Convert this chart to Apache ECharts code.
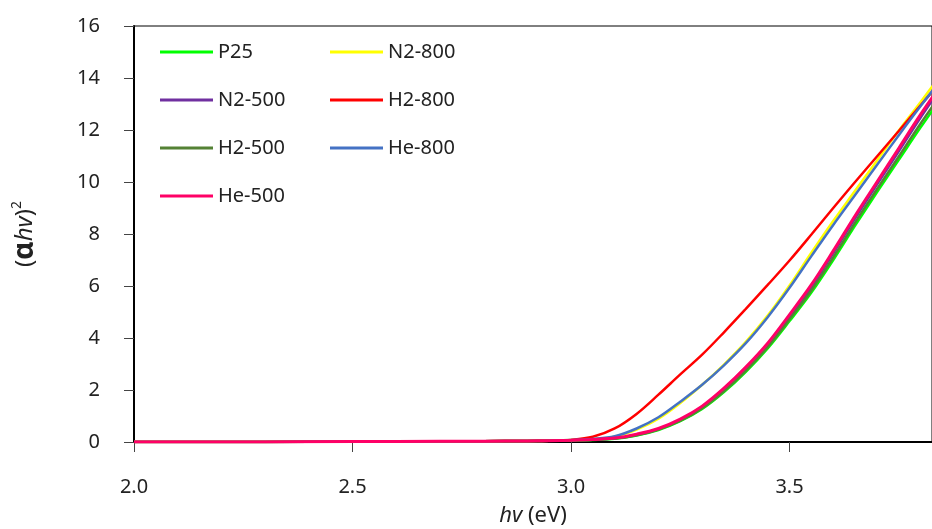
<!DOCTYPE html>
<html>
<head>
<meta charset="utf-8">
<script src="https://cdn.jsdelivr.net/npm/echarts@6/dist/echarts.min.js"></script>
<style>html,body{margin:0;padding:0;background:#fff;}#c{width:932px;height:529px;}</style>
</head>
<body>
<div id="c"></div>
<script>
var energy = [2.0, 2.2, 2.4, 2.6, 2.8, 2.9, 2.95, 3.0, 3.05, 3.1, 3.15, 3.2, 3.25, 3.3, 3.35, 3.4, 3.45, 3.5, 3.55, 3.6, 3.65, 3.7, 3.75, 3.8, 3.85];
var seriesNames = ['P25', 'N2-500', 'H2-500', 'N2-800', 'H2-800', 'He-800', 'He-500'];
var P25    = [0, 0, 0.01, 0.02, 0.03, 0.04, 0.05, 0.06, 0.08, 0.12, 0.25, 0.46, 0.8, 1.27, 1.92, 2.7, 3.6, 4.65, 5.75, 7.0, 8.32, 9.6, 10.85, 12.1, 13.3];
var N2_500 = [0, 0, 0.01, 0.02, 0.03, 0.04, 0.05, 0.07, 0.09, 0.14, 0.28, 0.5, 0.85, 1.34, 2.02, 2.82, 3.74, 4.82, 5.96, 7.26, 8.6, 9.9, 11.18, 12.48, 13.7];
var H2_500 = [0, 0, 0.01, 0.02, 0.03, 0.04, 0.05, 0.06, 0.09, 0.13, 0.26, 0.48, 0.82, 1.3, 1.96, 2.75, 3.66, 4.72, 5.84, 7.1, 8.44, 9.72, 10.98, 12.25, 13.45];
var N2_800 = [0, 0, 0.01, 0.02, 0.03, 0.04, 0.05, 0.08, 0.11, 0.2, 0.48, 0.9, 1.5, 2.2, 2.98, 3.85, 4.86, 6.02, 7.28, 8.5, 9.66, 10.82, 11.98, 13.08, 14.2];
var H2_800 = [0, 0, 0.01, 0.02, 0.03, 0.04, 0.05, 0.08, 0.2, 0.52, 1.08, 1.82, 2.6, 3.36, 4.22, 5.12, 6.04, 6.98, 7.98, 9.0, 10.0, 10.98, 11.96, 12.95, 13.95];
var He_800 = [0, 0, 0.01, 0.02, 0.03, 0.04, 0.05, 0.08, 0.12, 0.22, 0.52, 0.95, 1.55, 2.2, 2.95, 3.8, 4.8, 5.93, 7.15, 8.35, 9.5, 10.65, 11.8, 12.92, 14.0];
var He_500 = [0, 0, 0.01, 0.02, 0.03, 0.04, 0.05, 0.07, 0.1, 0.15, 0.3, 0.52, 0.88, 1.38, 2.07, 2.88, 3.8, 4.9, 6.05, 7.35, 8.7, 10.0, 11.3, 12.6, 13.8];
var seriesValues = [P25, N2_500, H2_500, N2_800, H2_800, He_800, He_500];
var seriesColors = ['#00ff00', '#7030a0', '#548235', '#ffff00', '#ff0000', '#4472c4', '#ff0066'];
var yTicks = [0, 2, 4, 6, 8, 10, 12, 14, 16];
var xTicks = [2.0, 2.5, 3.0, 3.5];

var FONT = 'Noto Sans';
var chart = echarts.init(document.getElementById('c'), null, {renderer: 'canvas'});

var series = seriesNames.map(function (name, i) {
  return {
    name: name,
    type: 'line',
    data: energy.map(function (x, j) { return [x, seriesValues[i][j]]; }),
    showSymbol: false,
    smooth: 0.35,
    clip: true,
    lineStyle: {color: seriesColors[i], width: i === 6 ? 3 : 2.5},
    itemStyle: {color: seriesColors[i]},
    emphasis: {disabled: true},
    z: 2 + i
  };
});

var legendCommon = {
  orient: 'vertical',
  icon: 'rect',
  padding: 0,
  itemWidth: 53,
  itemHeight: 3,
  itemGap: 28,
  textStyle: {fontFamily: FONT, fontSize: 20, color: '#222', lineHeight: 20}
};

chart.setOption({
  animation: false,
  backgroundColor: '#fff',
  grid: {left: 134, top: 26, right: 0, bottom: 87, containLabel: false, outerBoundsMode: 'none', show: true, borderColor: '#000', borderWidth: 1, backgroundColor: 'transparent'},
  legend: [
    Object.assign({left: 160, top: 42, data: ['P25', 'N2-500', 'H2-500', 'He-500']}, legendCommon),
    Object.assign({left: 330, top: 42, data: ['N2-800', 'H2-800', 'He-800']}, legendCommon)
  ],
  xAxis: {
    type: 'value',
    min: 2.0,
    max: 3.826,
    interval: 0.5,
    name: '{i|hv} (eV)',
    nameLocation: 'middle',
    nameGap: 63,
    nameTextStyle: {fontFamily: FONT, fontSize: 22, color: '#222', rich: {i: {fontFamily: FONT, fontSize: 22, fontStyle: 'italic', color: '#222'}}},
    axisLine: {show: true, onZero: false, lineStyle: {color: '#000', width: 2}},
    axisTick: {show: true, inside: false, length: 10, lineStyle: {color: '#444', width: 1}},
    axisLabel: {
      margin: 35, fontFamily: FONT, fontSize: 20, color: '#222', showMaxLabel: false,
      formatter: function (v) { return xTicks.indexOf(Math.round(v * 10) / 10) >= 0 ? v.toFixed(1) : ''; }
    },
    splitLine: {show: false}
  },
  yAxis: {
    type: 'value',
    min: 0,
    max: 16,
    interval: 2,
    name: '{p|(}{a|α}{i|hv}{p|)}{s|2}',
    nameLocation: 'middle',
    nameRotate: 90,
    nameGap: 94,
    nameTextStyle: {
      fontFamily: FONT, fontSize: 24, color: '#222',
      rich: {
        p: {fontFamily: FONT, fontSize: 24, color: '#222', lineHeight: 30},
        a: {fontFamily: FONT, fontSize: 28, fontWeight: 'bold', color: '#222', lineHeight: 30},
        i: {fontFamily: FONT, fontSize: 24, fontStyle: 'italic', color: '#222', lineHeight: 30},
        s: {fontFamily: FONT, fontSize: 14, color: '#222', verticalAlign: 'top', lineHeight: 30, padding: [0, 0, 12, 0]}
      }
    },
    axisLine: {show: true, lineStyle: {color: '#000', width: 2}},
    axisTick: {show: true, inside: false, length: 10, lineStyle: {color: '#444', width: 1}},
    axisLabel: {
      margin: 34, fontFamily: FONT, fontSize: 20, color: '#222',
      formatter: function (v) { return yTicks.indexOf(v) >= 0 ? String(v) : ''; }
    },
    splitLine: {show: false}
  },
  series: series
});
</script>
</body>
</html>
